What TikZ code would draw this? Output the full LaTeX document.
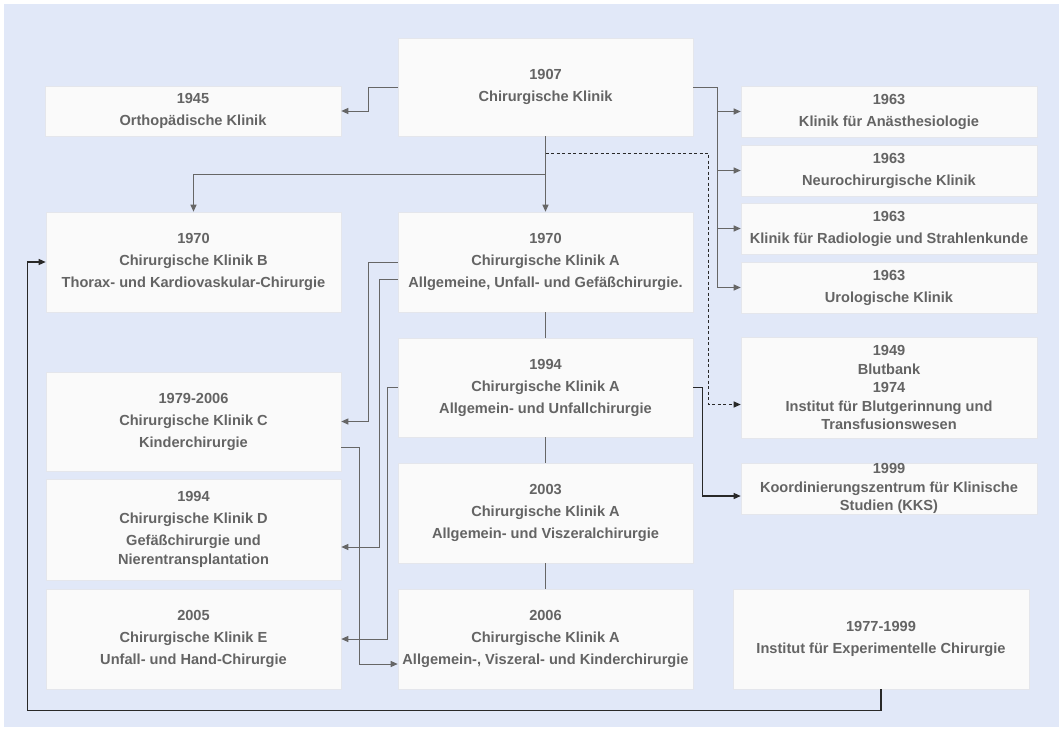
\documentclass[tikz,border=0pt]{standalone}
\usepackage{fontspec}
\setmainfont{Liberation Sans}
\usetikzlibrary{arrows.meta}
\definecolor{bgc}{RGB}{225,232,248}
\definecolor{boxfill}{RGB}{250,250,250}
\definecolor{boxline}{RGB}{228,230,236}
\definecolor{txt}{RGB}{100,100,100}
\definecolor{lgray}{RGB}{102,102,102}
\definecolor{ldark}{RGB}{40,40,40}
\tikzset{
  box/.style={fill=boxfill, draw=boxline, line width=0.6pt, inner sep=0pt, align=center,
    text=txt, font=\fontsize{14.6}{18.5}\selectfont\bfseries},
  conn/.style={draw=lgray, line width=1pt, -{Triangle[length=7pt,width=6pt]}},
  plain/.style={draw=lgray, line width=1pt},
  darkconn/.style={draw=ldark, line width=1.3pt, -{Triangle[length=7pt,width=6pt]}},
  dashconn/.style={draw=ldark, line width=1pt, dashed, dash pattern=on 3pt off 2.5pt, -{Triangle[length=7pt,width=6pt]}},
}
\begin{document}
\begin{tikzpicture}[x=1pt,y=-1pt]
\useasboundingbox (0,0) rectangle (1063,731);
\fill[white] (0,0) rectangle (1063,731);
\fill[bgc] (4,4) rectangle (1059,727);

% middle column
\node[box, minimum width=295pt, minimum height=98pt] (top) at (545.5,87) {1907\\[3.5pt]Chirurgische Klinik};
\node[box, minimum width=295pt, minimum height=100pt] (A70) at (545.5,262) {1970\\[3.5pt]Chirurgische Klinik A\\[3.5pt]Allgemeine, Unfall- und Gefäßchirurgie.};
\node[box, minimum width=295pt, minimum height=99pt] (A94) at (545.5,387.5) {1994\\[3.5pt]Chirurgische Klinik A\\[3.5pt]Allgemein- und Unfallchirurgie};
\node[box, minimum width=295pt, minimum height=100pt] (A03) at (545.5,513) {2003\\[3.5pt]Chirurgische Klinik A\\[3.5pt]Allgemein- und Viszeralchirurgie};
\node[box, minimum width=295pt, minimum height=100pt] (A06) at (545.5,639) {2006\\[3.5pt]Chirurgische Klinik A\\[3.5pt]Allgemein-, Viszeral- und Kinderchirurgie};

% left column
\node[box, minimum width=296pt, minimum height=50pt] (ortho) at (193,111) {1945\\[3.5pt]Orthopädische Klinik};
\node[box, minimum width=295pt, minimum height=100pt] (B) at (193.5,262) {1970\\[3.5pt]Chirurgische Klinik B\\[3.5pt]Thorax- und Kardiovaskular-Chirurgie};
\node[box, minimum width=295pt, minimum height=99pt] (C) at (193.5,421.5) {1979-2006\\[3.5pt]Chirurgische Klinik C\\[3.5pt]Kinderchirurgie};
\node[box, minimum width=295pt, minimum height=101pt] (D) at (193.5,529.5) {1994\\[3.5pt]Chirurgische Klinik D\\[3.5pt]Gefäßchirurgie und\\Nierentransplantation};
\node[box, minimum width=295pt, minimum height=100pt] (E) at (193.5,639) {2005\\[3.5pt]Chirurgische Klinik E\\[3.5pt]Unfall- und Hand-Chirurgie};

% right column
\node[box, minimum width=296pt, minimum height=51pt] (anae) at (889,111.5) {1963\\[3.5pt]Klinik für Anästhesiologie};
\node[box, minimum width=296pt, minimum height=51pt] (neuro) at (889,170.5) {1963\\[3.5pt]Neurochirurgische Klinik};
\node[box, minimum width=296pt, minimum height=51pt] (radio) at (889,228.5) {1963\\[3.5pt]Klinik für Radiologie und Strahlenkunde};
\node[box, minimum width=296pt, minimum height=51pt] (uro) at (889,287.5) {1963\\[3.5pt]Urologische Klinik};
\node[box, minimum width=296pt, minimum height=101pt] (blut) at (889,387.5) {1949\\Blutbank\\1974\\Institut für Blutgerinnung und\\Transfusionswesen};
\node[box, minimum width=296pt, minimum height=51pt] (kks) at (889,488.5) {1999\\Koordinierungszentrum für Klinische\\Studien (KKS)};
\node[box, minimum width=296pt, minimum height=100pt] (exp) at (881,639) {1977-1999\\[3.5pt]Institut für Experimentelle Chirurgie};

% connectors from 1907
\draw[conn] (top.west) -- ++(-29,0) |- (ortho.east);
\draw[conn] (top.east) -- ++(24,0) |- (anae.west);
\draw[conn] (top.east) -- ++(24,0) |- (neuro.west);
\draw[conn] (top.east) -- ++(24,0) |- (radio.west);
\draw[conn] (top.east) -- ++(24,0) |- (uro.west);
\draw[conn] (top.south) -- (A70.north);
\draw[conn] (top.south) -- ++(0,38) -| (B.north);
\draw[dashconn] ([yshift=-17pt]top.south) -| ([xshift=-32pt,yshift=-17pt]blut.west) -- ([yshift=-17pt]blut.west);

% middle chain
\draw[plain] (A70.south) -- (A94.north);
\draw[plain] (A94.south) -- (A03.north);
\draw[plain] (A03.south) -- (A06.north);

% crossing connectors
\draw[conn] (A70.west) -- ++(-29,0) |- (C.east);
\draw[conn] ([yshift=-17pt]A70.west) -- ++(-18,0) |- ([yshift=-17.5pt]D.east);
\draw[conn] (A94.west) -- ++(-10,0) |- (E.east);
\draw[conn] ([yshift=-25.5pt]C.east) -- ++(18,0) |- ([yshift=-25pt]A06.west);

% dark connectors
\draw[darkconn] (A94.east) -- ++(9,0) |- ([yshift=-7.5pt]kks.west);
\draw[darkconn] (exp.south) -- ++(0,21) -| ([xshift=-18pt]B.west) -- (B.west);
\end{tikzpicture}
\end{document}
